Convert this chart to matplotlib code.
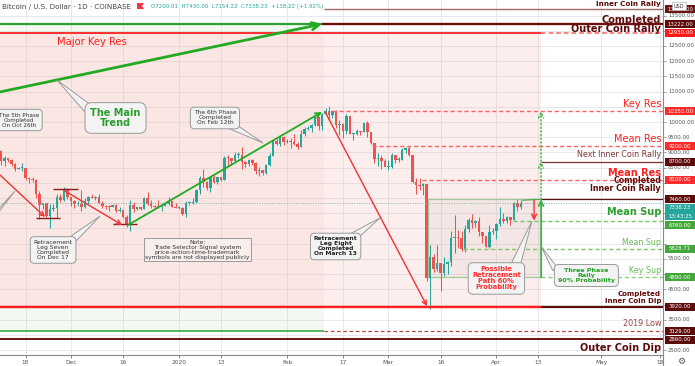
import numpy as np
import matplotlib
matplotlib.use("Agg")
import matplotlib.pyplot as plt
from matplotlib.patches import Rectangle, Polygon
from matplotlib.transforms import blended_transform_factory

# ---------------------------------------------------------------- data
FIRST_DAY = "2019-11-10"
BASE_DAY = "2020-01-01"

opens = [
    8810, 9040, 8720, 8810, 8760, 8630, 8460, 8490, 8500, 8170, 8120, 8080, 7620, 7280, 7330, 6910, 7130, 7170, 7520, 7440, 7750,
    7550, 7400, 7300, 7300, 7200, 7390, 7530, 7510, 7530, 7340, 7230, 7210, 7200, 7260, 7070, 7110, 6880, 6620, 7280, 7150, 7190, 7145, 7510, 7320, 7250, 7200, 7190, 7250, 7300, 7390, 7220,
    7170, 7180, 6960, 7340, 7350, 7360, 7760, 8160, 8040, 7820, 8190, 8020, 8180, 8110, 8820, 8810, 8720, 8900, 8910, 8700, 8630, 8740, 8660, 8390, 8430, 8330, 8600, 8890, 9390, 9290, 9500,
    9350, 9380, 9330, 9290, 9180, 9620, 9760, 9810, 9910, 10160, 9860, 10270, 10360, 10240, 10370, 9900, 9930, 9700, 10190, 9600, 9610, 9690, 9670, 9970, 9660, 9310, 8790, 8810, 8710,
    8530, 8530, 8920, 8760, 8760, 9070, 9160, 8900, 8040, 7940, 7890, 7950, 4860, 5560, 5170, 5360, 5030, 5330, 5410, 6190, 6200, 6190, 5830, 6480, 6770, 6690, 6760, 6370, 6250, 5880, 6400,
    6420, 6640, 6810, 6740, 6870, 6780, 7340, 7200.01,
]
highs = [
    9140, 9070, 8880, 8830, 8780, 8640, 8530, 8640, 8500, 8200, 8200, 8130, 7720, 7350, 7350, 7320, 7320, 7650, 7620, 7870, 7820,
    7550, 7420, 7410, 7750, 7490, 7560, 7620, 7560, 7640, 7400, 7270, 7260, 7310, 7290, 7190, 7140, 6940, 7440, 7370, 7220, 7190, 7520, 7690, 7420, 7270, 7440, 7270, 7360, 7520, 7410, 7330,
    7250, 7210, 7400, 7390, 7500, 7800, 8210, 8460, 8050, 8190, 8290, 8200, 8200, 8880, 8900, 8820, 9000, 9000, 9180, 8730, 8770, 8800, 8670, 8520, 8430, 8610, 8980, 9410, 9440, 9560, 9530,
    9440, 9470, 9600, 9340, 9740, 9850, 9880, 9950, 10170, 10160, 10300, 10460, 10520, 10400, 10380, 10060, 9960, 10250, 10190, 9650, 9770, 9700, 9980, 10030, 9670, 9320, 8970, 8900, 8790,
    8750, 8970, 8920, 8850, 9160, 9170, 9200, 8900, 8170, 8150, 7980, 7960, 5970, 5660, 5960, 5370, 5560, 5440, 6420, 6950, 6460, 6420, 6600, 6840, 6980, 6790, 6880, 6370, 6260, 6600, 6530,
    6690, 7210, 7000, 6900, 6880, 7370, 7470, 7430.00,
]
lows = [
    8770, 8600, 8560, 8690, 8570, 8380, 8440, 8390, 8080, 8010, 8020, 7500, 6800, 7150, 6880, 6520, 7080, 6860, 7360, 7410, 7460,
    7230, 7160, 7230, 7080, 7170, 7310, 7490, 7450, 7290, 7180, 7130, 7070, 7200, 7050, 7030, 6850, 6560, 6430, 7040, 7100, 7100, 7130, 7270, 7170, 7130, 7160, 7070, 7250, 7280, 7200, 7160,
    7150, 6930, 6870, 7270, 7320, 7350, 7640, 7870, 7760, 7700, 7990, 7960, 8050, 8110, 8570, 8600, 8670, 8810, 8470, 8530, 8560, 8590, 8300, 8240, 8250, 8290, 8570, 8880, 9230, 9220, 9230,
    9300, 9150, 9230, 9110, 9170, 9540, 9730, 9670, 9880, 9740, 9730, 10250, 10080, 10130, 9800, 9570, 9460, 9600, 9590, 9420, 9580, 9580, 9670, 9510, 9280, 8640, 8540, 8450, 8540,
    8410, 8500, 8660, 8670, 8760, 8990, 8880, 8010, 7630, 7750, 7590, 4780, 3860, 5080, 5110, 4450, 4940, 5010, 5260, 5700, 5870, 5770, 5720, 6400, 6500, 6540, 6260, 6030, 5880, 5860, 6330,
    6160, 6590, 6690, 6680, 6630, 6770, 7090, 7154.22,
]
closes = [
    9040, 8720, 8810, 8760, 8630, 8460, 8490, 8500, 8170, 8120, 8080, 7620, 7280, 7330, 6910, 7130, 7170, 7520, 7440, 7750, 7550,
    7400, 7300, 7300, 7200, 7390, 7530, 7510, 7530, 7340, 7230, 7210, 7200, 7260, 7070, 7110, 6880, 6620, 7280, 7150, 7190, 7145, 7510, 7320, 7250, 7200, 7190, 7250, 7300, 7390, 7220, 7170,
    7180, 6960, 7340, 7350, 7360, 7760, 8160, 8040, 7820, 8190, 8020, 8180, 8110, 8820, 8810, 8720, 8900, 8910, 8700, 8630, 8740, 8660, 8390, 8430, 8330, 8600, 8890, 9390, 9290, 9500, 9350,
    9380, 9330, 9290, 9180, 9620, 9760, 9810, 9910, 10160, 9860, 10270, 10360, 10240, 10370, 9900, 9930, 9700, 10190, 9600, 9610, 9690, 9670, 9970, 9660, 9310, 8790, 8810, 8710, 8530,
    8530, 8920, 8760, 8760, 9070, 9160, 8900, 8040, 7940, 7890, 7950, 4860, 5560, 5170, 5360, 5030, 5330, 5410, 6190, 6200, 6190, 5830, 6480, 6770, 6690, 6760, 6370, 6250, 5880, 6400, 6420,
    6640, 6810, 6740, 6870, 6780, 7340, 7200, 7338.23,
]

tick_dates = ["2019-11-18", "2019-12-01", "2019-12-16", "2020-01-01", "2020-01-13", "2020-02-01",
              "2020-02-17", "2020-03-01", "2020-03-16", "2020-04-01", "2020-04-13", "2020-05-01", "2020-05-18"]
tick_labels = ["18", "Dec", "16", "2020", "13", "Feb", "17", "Mar", "16", "Apr", "13", "May", "18"]
price_ticks = list(range(2500, 14000, 500))

# key levels
L_INNER_RALLY = 13700
L_COMPLETED = 13222
L_OUTER_RALLY = 12930
L_KEY_RES = 10350
L_MEAN_RES1 = 9200
L_NEXT_INNER = 8700
L_MEAN_RES2 = 8100
L_INNER_DONE = 7460
L_MEAN_SUP1 = 6760
L_MEAN_SUP2 = 5828.71
L_KEY_SUP = 4890
L_INNER_DIP = 3920
L_LOW_2019 = 3129
L_OUTER_DIP = 2860
LAST_PRICE = 7338.23
COUNTDOWN = "13:43:25"

header_title = "Bitcoin / U.S. Dollar · 1D · COINBASE"
header_ohlc = "O7200.01  H7430.00  L7154.22  C7338.23  +138.22 (+1.92%)"

# colours
DKRED = "#5d0b0b"
RED = "#ff1f1f"
LRED = "#ff6060"
GREEN = "#2e9e2e"
LGREEN = "#66bb55"
UP = "#26a69a"
DN = "#ef5350"
BOX_FC = "#f3f3f3"
BOX_EC = "#9a9a9a"

# price-axis labels (price, text, colour)
axis_labels = [
    (L_INNER_RALLY, "13700.00", "#6b1515"),
    (L_COMPLETED, "13222.00", DKRED),
    (L_OUTER_RALLY, "12930.00", "#ff1a1a"),
    (L_KEY_RES, "10350.00", "#ff2a2a"),
    (L_MEAN_RES1, "9200.00", "#ff2a2a"),
    (L_NEXT_INNER, "8700.00", DKRED),
    (L_MEAN_RES2, "8100.00", "#ff2a2a"),
    (L_INNER_DONE, "7460.00", DKRED),
    (LAST_PRICE, "7338.23", UP),
    (None, COUNTDOWN, UP),
    (L_MEAN_SUP1, "6760.00", "#43a83a"),
    (L_MEAN_SUP2, "5828.71", "#43a83a"),
    (L_KEY_SUP, "4890.00", "#43a83a"),
    (L_INNER_DIP, "3920.00", DKRED),
    (L_LOW_2019, "3129.00", DKRED),
    (L_OUTER_DIP, "2860.00", DKRED),
]

# right-hand level notes (text, baseline price, colour, size, weight)
level_notes = [
    ("Inner Coin Rally", 13814, DKRED, 5.2, "bold"),
    ("Completed", 13255, DKRED, 7.0, "bold"),
    ("Outer Coin Rally", 12959, DKRED, 7.0, "bold"),
    ("Key Res", 10494, RED, 7.0, "normal"),
    ("Mean Res", 9343, RED, 7.0, "normal"),
    ("Next Inner Coin Rally", 8834, "#7a3a3a", 5.8, "normal"),
    ("Mean Res", 8226, RED, 7.0, "bold"),
    ("Completed", 7980, DKRED, 5.7, "bold"),
    ("Inner Coin Rally", 7717, DKRED, 5.7, "bold"),
    ("Mean Sup", 6928, GREEN, 7.0, "bold"),
    ("Mean Sup", 5958, LGREEN, 5.7, "normal"),
    ("Key Sup", 5037, LGREEN, 5.8, "normal"),
    ("Completed", 4265, DKRED, 5.0, "bold"),
    ("Inner Coin Dip", 4035, DKRED, 5.0, "bold"),
    ("2019 Low", 3293, "#a04545", 5.8, "normal"),
    ("Outer Coin Dip", 2474, DKRED, 7.0, "bold"),
]

# drawing anchors (days since 2020-01-01, price)
ZONE_SPLIT = 41.7
ZONE_END = 103.8
BOX_START = 71.4
RED_ARROW_X = 101.8

trend_main = [(-55.0, 10900), (41.0, 13222)]
trend_phase6 = [(-14.6, 6614), (41.0, 10330)]
leg_six = [(-54.2, 8565), (-38.4, 6878)]
leg_seven = [(-32.7, 7733), (-16.3, 6615)]
leg_eight = [(41.9, 10330), (71.1, 3950)]
marks = [((-36.1, -29.0), 7798), ((-41.0, -34.1), 6845), ((-18.9, -12.0), 6648)]

callouts = [
    dict(text="The 5th Phase\nCompleted\nOn Oct 26th", xy=(-45.9, 10066), size=4.1, color="#333333", weight="normal"),
    dict(text="The Main\nTrend", xy=(-18.2, 10132), tip=(-35.0, 11381), base=[(-24.9, 10527), (-26.7, 10297)],
         size=7.0, color="#2a9d2a", weight="bold"),
    dict(text="The 6th Phase\nCompleted\nOn Feb 12th", xy=(10.3, 10132), tip=(24.1, 9311), base=[(14.0, 9803), (16.1, 9935)],
         size=4.3, color="#333333", weight="normal"),
    dict(text="Retracement\nLeg Seven\nCompleted\nOn Dec 17", xy=(-36.1, 5793), tip=(-22.6, 6911), base=[(-31.3, 6221), (-29.8, 6056)],
         size=4.3, color="#333333", weight="normal"),
    dict(text="Retracement\nLeg Eight\nCompleted\nOn March 13", xy=(44.9, 5908), tip=(57.6, 6845), base=[(49.0, 6319), (50.7, 6122)],
         size=4.3, color="#222222", weight="bold"),
    dict(text="Possible\nRetracement\nPath 60%\nProbability", xy=(91.0, 4857), tip=(101.2, 6747), base=[(94.9, 5267), (97.8, 5267)],
         size=4.9, color="#ff3030", weight="bold"),
    dict(text="Three Phase\nRally\n90% Probability", xy=(116.8, 4955), tip=(103.8, 5925), base=[(108.1, 5267), (107.2, 5103)],
         size=4.6, color="#22a022", weight="bold"),
]
leg_six_pointer = dict(tip=(-47.0, 7733), base=[(-54.8, 6582), (-52.5, 7042)])
note_text = "Note:\nTrade Selector Signal system\nprice-action-time-trademark\nsymbols are not displayed publicly"
note_xy = (5.3, 5793)

# ---------------------------------------------------------------- figure
W, H = 695, 366
AX_R, AX_B = 663, 355
fig = plt.figure(figsize=(W / 100, H / 100), dpi=100)
fig.patch.set_facecolor("white")
ax = fig.add_axes([0, (H - AX_B) / H, AX_R / W, AX_B / H])
XMIN, XMAX = -51.32, 138.76
YMIN, YMAX = 2341, 14011
ax.set_xlim(XMIN, XMAX)
ax.set_ylim(YMIN, YMAX)
PPP = (YMAX - YMIN) / AX_B

base = np.datetime64(BASE_DAY)
dates = np.arange(np.datetime64(FIRST_DAY), np.datetime64(FIRST_DAY) + len(closes))
xs = (dates - base).astype(int).astype(float)
tick_x = [float((np.datetime64(d) - base).astype(int)) for d in tick_dates]

# grid
for t in tick_x:
    ax.axvline(t, color="#e3e5eb", lw=0.6, zorder=0)
for p in price_ticks:
    ax.axhline(p, color="#e3e5eb", lw=0.6, zorder=0)

# zones
ax.add_patch(Rectangle((XMIN - 5, L_INNER_DIP), ZONE_SPLIT - XMIN + 5, L_OUTER_RALLY - L_INNER_DIP,
                       fc=(0.94, 0.66, 0.62, 0.27), lw=0, zorder=1))
ax.add_patch(Rectangle((ZONE_SPLIT, L_INNER_DIP), ZONE_END - ZONE_SPLIT, L_OUTER_RALLY - L_INNER_DIP,
                       fc=(0.95, 0.66, 0.62, 0.19), lw=0, zorder=1))
ax.add_patch(Rectangle((XMIN - 5, L_OUTER_RALLY), 41.0 - XMIN + 5, L_COMPLETED - L_OUTER_RALLY,
                       fc=(0.6, 0.82, 0.6, 0.13), lw=0, zorder=1))
ax.add_patch(Rectangle((XMIN - 5, L_LOW_2019), ZONE_SPLIT - XMIN + 5, L_INNER_DIP - L_LOW_2019,
                       fc=(0.6, 0.82, 0.6, 0.13), lw=0, zorder=1))
ax.add_patch(Rectangle((BOX_START, L_KEY_SUP), ZONE_END - BOX_START, L_INNER_DONE - L_KEY_SUP,
                       fc=(0.45, 0.45, 0.45, 0.06), ec="#a3c89c", lw=0.9, zorder=2))

# candles
o, h, l, c = map(np.array, (opens, highs, lows, closes))
col = np.where(c >= o, UP, DN)
ax.vlines(xs, l, h, colors=col, lw=0.75, zorder=3)
ax.bar(xs, np.maximum(np.abs(c - o), PPP * 1.0), bottom=np.minimum(o, c), width=0.72,
       color=col, lw=0, zorder=3)

# levels
dash = (0, (3, 2))
def seg(p, x0, x1, color, lw=1.0, ls="-", z=4):
    ax.hlines(p, x0, x1, colors=color, lw=lw, linestyles=ls, zorder=z)

R = XMAX + 1
seg(L_INNER_RALLY, ZONE_SPLIT, R, "#a06868", 1.0)
seg(L_COMPLETED, XMIN - 2, 41.0, "#2ca02c", 1.6)
seg(L_COMPLETED, 41.0, R, "#6d1010", 1.7)
seg(L_OUTER_RALLY, XMIN - 2, ZONE_END, RED, 1.3)
seg(L_OUTER_RALLY, ZONE_END, R, LRED, 1.1, dash)
seg(L_KEY_RES, 43.9, R, LRED, 1.0, dash)
seg(L_MEAN_RES1, 55.3, R, LRED, 1.0, dash)
seg(L_NEXT_INNER, ZONE_END, R, "#7a3030", 0.9)
seg(L_MEAN_RES2, 69.7, R, LRED, 1.0, dash)
seg(L_INNER_DONE, ZONE_END, R, DKRED, 0.9)
seg(LAST_PRICE, XMIN - 2, R, "#8fb0aa", 0.7, (0, (1, 1.5)))
seg(L_MEAN_SUP1, 95.8, R, "#7cc56c", 1.0, dash)
seg(L_MEAN_SUP2, 81.4, R, "#7cc56c", 1.0, dash)
seg(L_KEY_SUP, ZONE_END, R, "#8ccf7c", 1.0, dash)
seg(L_INNER_DIP, XMIN - 2, ZONE_END, RED, 1.7)
seg(L_INNER_DIP, ZONE_END, R, DKRED, 1.6)
seg(L_LOW_2019, XMIN - 2, ZONE_SPLIT, "#3caa3c", 1.2)
seg(L_LOW_2019, ZONE_SPLIT, R, "#b04a4a", 0.9, dash)
seg(L_OUTER_DIP, XMIN - 2, R, "#6d1010", 1.4)
for (x0, x1), p in marks:
    seg(p, x0, x1, "#8b1a1a", 1.0, "-", 5)

# arrows
def arrow(p0, p1, color, lw=1.2, ls="-", ms=9):
    ax.annotate("", xy=p1, xytext=p0, zorder=5, annotation_clip=False,
                arrowprops=dict(arrowstyle="->", color=color, lw=lw, linestyle=ls,
                                shrinkA=0, shrinkB=0, mutation_scale=ms))

arrow(*trend_main, "#22aa22", 2.0, ms=13)
arrow(*trend_phase6, "#22aa22", 1.3, ms=9)
arrow(*leg_six, "#ee3333", 1.0, ms=8)
arrow(*leg_seven, "#ee3333", 1.0, ms=8)
arrow(*leg_eight, "#ee3333", 1.0, ms=8)
arrow((ZONE_END, L_KEY_SUP), (ZONE_END, L_INNER_DONE), "#3cb043", 1.2, ms=9)
arrow((ZONE_END, L_INNER_DONE), (ZONE_END, L_NEXT_INNER), "#3cb043", 1.0, ":", 9)
arrow((ZONE_END, L_NEXT_INNER), (ZONE_END, L_KEY_RES), "#3cb043", 1.0, ":", 9)
arrow((RED_ARROW_X, L_INNER_DONE), (RED_ARROW_X, L_MEAN_SUP1), "#ff2a2a", 1.0, ms=9)
ax.plot([xs[-1] + 0.6, ZONE_END - 0.3], [highs[-1], L_INNER_DONE], color="#44aa44", lw=0.8, zorder=5)

# callouts
def pointer(tip, base_pts, fc=BOX_FC, ec=BOX_EC):
    ax.add_patch(Polygon([base_pts[0], tip, base_pts[1]], closed=True, fc=fc, ec=ec, lw=0.7, zorder=6))

pointer(leg_six_pointer["tip"], leg_six_pointer["base"])
for cdef in callouts:
    if "tip" in cdef:
        pointer(cdef["tip"], cdef["base"])
    ax.text(*cdef["xy"], cdef["text"], ha="center", va="center", fontsize=cdef["size"],
            color=cdef["color"], weight=cdef["weight"], linespacing=1.0, zorder=7, clip_on=True,
            bbox=dict(boxstyle="round,pad=0.55,rounding_size=0.7", fc=BOX_FC, ec=BOX_EC, lw=0.7))
ax.text(*note_xy, note_text, ha="center", va="center", fontsize=4.3, color="#333333",
        linespacing=1.0, zorder=7,
        bbox=dict(boxstyle="square,pad=0.25", fc="#f8efed", ec="#9a9a9a", lw=0.7))

# level notes
for txt, p, color, size, weight in level_notes:
    ax.text(0.997, p, txt, transform=blended_transform_factory(ax.transAxes, ax.transData),
            ha="right", va="baseline", fontsize=size, color=color, weight=weight, zorder=8, clip_on=False)
ax.text(-35.0, 12532, "Major Key Res", ha="left", va="baseline", fontsize=7.2, color=RED, zorder=8)

# axes styling
for s in ("left", "top"):
    ax.spines[s].set_visible(False)
for s in ("bottom", "right"):
    ax.spines[s].set_color("#8a8a8a")
    ax.spines[s].set_linewidth(0.8)
ax.set_xticks(tick_x)
ax.set_xticklabels(tick_labels)
ax.tick_params(axis="x", labelsize=4.2, colors="#555555", length=1.8, width=0.5, pad=1.5)
ax.set_yticks([])

# price axis: coloured labels (stacked), then plain ticks that stay clear of them
yt = blended_transform_factory(ax.transAxes, ax.transData)
LBL_H = 8.6 * PPP
placed = []
prev = None
for p, txt, color in axis_labels:
    if p is None:
        yc = prev - LBL_H
    else:
        yc = p if prev is None else min(p, prev - LBL_H)
    prev = yc
    placed.append(yc)
    ax.add_patch(Rectangle((665 / AX_R, yc - LBL_H / 2 + 0.3 * PPP), 30 / AX_R, LBL_H - 0.6 * PPP,
                           transform=yt, fc=color, ec="none", clip_on=False, zorder=10))
    ax.text(680 / AX_R, yc, txt, transform=yt, ha="center", va="center", fontsize=3.9,
            color="white", clip_on=False, zorder=11)

for p in price_ticks:
    ax.plot([1.0, 666 / AX_R], [p, p], transform=yt, color="#8a8a8a", lw=0.5, clip_on=False, zorder=9)
    if min(abs(p - q) for q in placed) < 6.0 * PPP:
        continue
    ax.text(668 / AX_R, p, f"{p:.2f}", transform=yt, ha="left", va="center", fontsize=3.9,
            color="#555555", clip_on=False, zorder=9)

# header & chrome
def fx(x): return x / W
def fy(y): return 1 - y / H

fig.text(fx(2), fy(6.5), header_title, fontsize=5.1, color="#444444", ha="left", va="center")
fig.patches.append(Polygon([(fx(137), fy(3)), (fx(144), fy(3)), (fx(142), fy(6)), (fx(144), fy(9)), (fx(137), fy(9))],
                           closed=True, transform=fig.transFigure, fc="#f23645", ec="none"))
fig.text(fx(151), fy(6.5), header_ohlc, fontsize=4.0, color="#26a69a", ha="left", va="center")
fig.text(fx(679), fy(6), "USD", fontsize=3.6, color="#333333", ha="center", va="center",
         bbox=dict(boxstyle="square,pad=0.35", fc="white", ec="#b0b0b0", lw=0.5), zorder=20)
fig.text(fx(681), fy(361), "\u2699", fontsize=6.5, color="#555555", ha="center", va="center")
fig.lines.append(plt.Line2D([fx(AX_R), fx(AX_R)], [0, fy(AX_B)], transform=fig.transFigure,
                            color="#8a8a8a", lw=0.8))

fig.savefig("out.png", dpi=100)
